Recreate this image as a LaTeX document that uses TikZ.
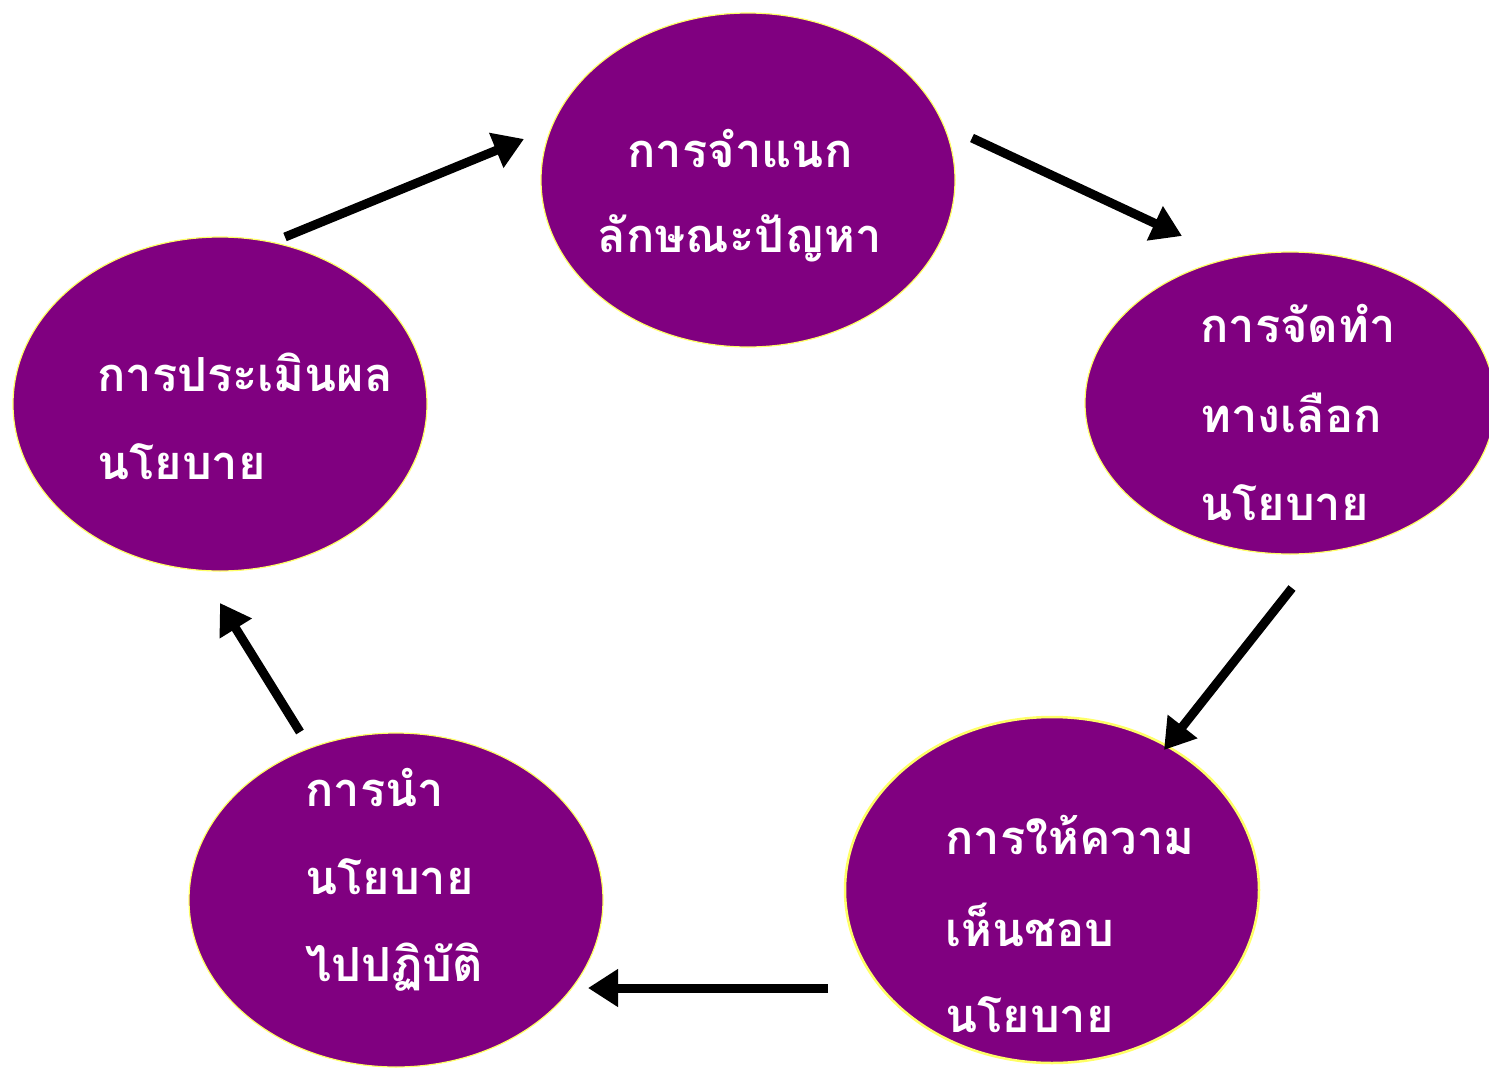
\documentclass[tikz,border=0pt]{standalone}
\usepackage{fontspec}
\newfontfamily\thaifont[Script=Thai]{Loma}
\usetikzlibrary{arrows.meta}
\definecolor{bubble}{HTML}{800080}
\definecolor{rim}{HTML}{FFFF66}
\tikzset{
  lbl/.style={text=white, font=\thaifont\bfseries\fontsize{47}{56}\selectfont, inner sep=0pt},
  flow/.style={line width=9pt, -{Triangle[length=30pt,width=36pt]}, draw=black}
}
\begin{document}
\begin{tikzpicture}[x=1pt,y=-1pt]
\useasboundingbox (0,0) rectangle (1489,1068);
\fill[white] (0,0) rectangle (1489,1068);
% ellipses
\fill[bubble, draw=rim, line width=1.2pt] (748,180) ellipse [x radius=207, y radius=167];
\fill[bubble, draw=rim, line width=1.2pt] (1290,403) ellipse [x radius=205, y radius=151];
\fill[bubble, draw=rim, line width=2.5pt] (1052,890) ellipse [x radius=207, y radius=173];
\fill[bubble, draw=rim, line width=1.2pt] (396,900) ellipse [x radius=207, y radius=167];
\fill[bubble, draw=rim, line width=1.2pt] (220,404) ellipse [x radius=207, y radius=167];
% labels
\node[lbl] (t1) at (740,148) {การจำแนก};
\node[lbl] (t2) at (740,238) {ลักษณะปัญหา};
\node[lbl, anchor=west] (r1) at (1200,323) {การจัดทำ};
\node[lbl, anchor=west] (r2) at (1200,413) {ทางเลือก};
\node[lbl, anchor=west] (r3) at (1200,503) {นโยบาย};
\node[lbl, anchor=west] (b1) at (945,835) {การให้ความ};
\node[lbl, anchor=west] (b2) at (945,925) {เห็นชอบ};
\node[lbl, anchor=west] (b3) at (945,1015) {นโยบาย};
\node[lbl, anchor=west] (c1) at (305,787) {การนำ};
\node[lbl, anchor=west] (c2) at (305,877) {นโยบาย};
\node[lbl, anchor=west] (c3) at (305,967) {ไปปฏิบัติ};
\node[lbl, anchor=west] (l1) at (97,372) {การประเมินผล};
\node[lbl, anchor=west] (l2) at (97,462) {นโยบาย};
% arrow ends
\coordinate (a1s) at (285,237); \coordinate (a1e) at (524,139);
\coordinate (a2s) at (972,138); \coordinate (a2e) at (1182,236);
\coordinate (a3s) at (1292,588); \coordinate (a3e) at (1164,750);
\coordinate (a4s) at (828,988); \coordinate (a4e) at (588,988);
\coordinate (a5s) at (300,732); \coordinate (a5e) at (220,603);
\draw[flow] (a1s) -- (a1e);
\draw[flow] (a2s) -- (a2e);
\draw[flow] (a3s) -- (a3e);
\draw[flow] (a4s) -- (a4e);
\draw[flow] (a5s) -- (a5e);
\end{tikzpicture}
\end{document}
